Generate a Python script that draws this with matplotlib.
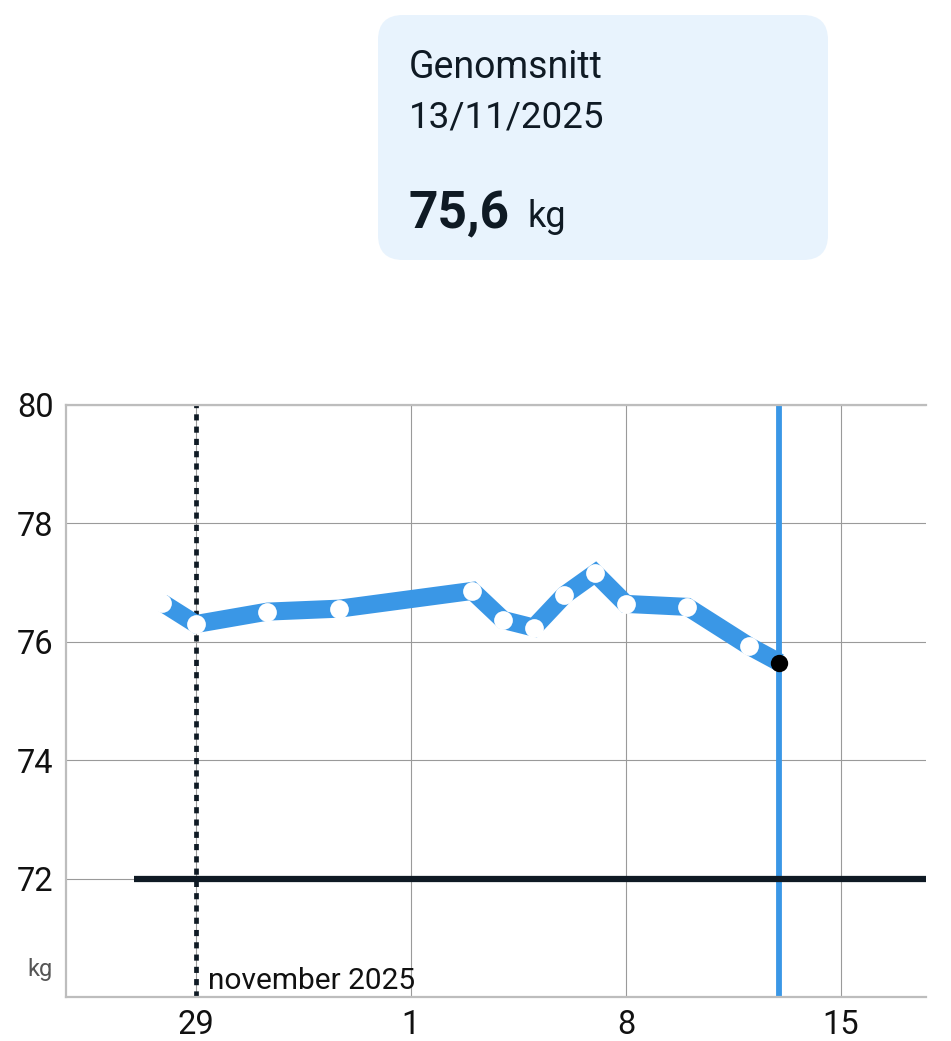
import matplotlib
matplotlib.use('Agg')
import matplotlib.pyplot as plt
from matplotlib.patches import FancyBboxPatch

plt.rcParams['font.family'] = ['Roboto', 'DejaVu Sans']

# dagar relativt "29"-linjen, och vikt i kg
days = [-1.1, 0, 2.33, 4.67, 9, 10, 11, 12, 13, 14, 16, 18, 19]
weights = [76.66, 76.30, 76.51, 76.56, 76.86, 76.37, 76.24, 76.79, 77.16, 76.64, 76.59, 75.93, 75.65]

tick_days = [0, 7, 14, 21]
tick_labels = ['29', '1', '8', '15']
y_ticks = [72, 74, 76, 78, 80]

goal = 72
goal_start = -2
month_start = 0
month_label = 'november 2025'

sel_day = 19
sel_value = '75,6'
sel_date = '13/11/2025'

BLUE = '#3a97e6'
DARK = '#0f1a24'

W, H = 951, 1041
fig = plt.figure(figsize=(W / 100, H / 100), dpi=100)
ax = fig.add_axes([66 / W, (H - 997) / H, (926 - 66) / W, (997 - 405) / H])

ax.set_xlim(-4.23, 23.77)
ax.set_ylim(70, 80)
ax.set_xticks(tick_days)
ax.set_xticklabels(tick_labels)
ax.set_yticks(y_ticks)
ax.tick_params(length=0, labelsize=23.5, labelcolor='#111111')
ax.tick_params(axis='y', pad=9)
ax.tick_params(axis='x', pad=9)
ax.grid(True, color='#9a9a9a', lw=0.8)
ax.set_axisbelow(True)
for s in ['top', 'bottom', 'left']:
    ax.spines[s].set_color('#bdbdbd')
    ax.spines[s].set_linewidth(1.6)
ax.spines['right'].set_visible(False)

# månadsskifte
ax.axvline(month_start, color=DARK, lw=3.4, linestyle=(0, (1.3, 1.3)),
           dash_capstyle='butt', zorder=2)
ax.text(month_start + 0.4, 70.14, month_label, fontsize=21.5, color='#111111',
        va='baseline', ha='left', zorder=5)

# mål
ax.hlines(goal, goal_start, ax.get_xlim()[1], color=DARK, lw=4.5, zorder=3)

# vald dag
ax.axvline(sel_day, color=BLUE, lw=4.2, zorder=2)

# vikt
ax.plot(days, weights, color=BLUE, lw=13, solid_joinstyle='miter',
        solid_capstyle='butt', zorder=4)
ax.plot(days[:-1], weights[:-1], 'o', color='white', ms=13.5, mec='none', zorder=5)
ax.plot(days[-1], weights[-1], 'o', color='black', ms=12.5, mec='none', zorder=6)

ax.text(-0.016, 70.46, 'kg', transform=ax.get_yaxis_transform(), ha='right',
        va='center', fontsize=17, color='#555555')

# inforuta
ov = fig.add_axes([0, 0, 1, 1], zorder=10)
ov.set_xlim(0, W)
ov.set_ylim(H, 0)
ov.axis('off')
r = 25
ov.add_patch(FancyBboxPatch((378 + r, 15 + r), 450 - 2 * r, 245 - 2 * r,
                            boxstyle=f'round,pad={r}', fc='#e8f3fd', ec='none'))
ov.text(409, 78, 'Genomsnitt', fontsize=27, color=DARK, va='baseline')
ov.text(409, 127, sel_date, fontsize=26.5, color=DARK, va='baseline')
ov.text(409, 228, sel_value, fontsize=37, fontweight='bold', color=DARK, va='baseline')
ov.text(527, 227, 'kg', fontsize=26, color=DARK, va='baseline')

fig.savefig('out.png', dpi=100)
